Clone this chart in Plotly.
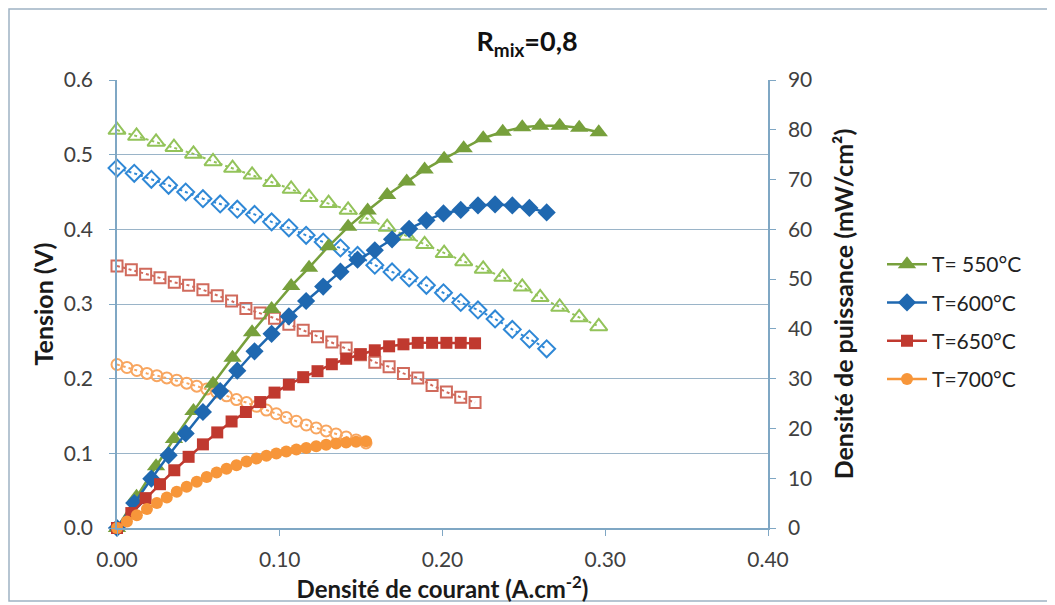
import plotly.graph_objects as go

# ---- data ----
x_550 = [0.000, 0.012, 0.024, 0.035, 0.047, 0.059, 0.071, 0.083, 0.095, 0.107, 0.118, 0.130, 0.142,
         0.154, 0.166, 0.178, 0.189, 0.201, 0.213, 0.225, 0.237, 0.249, 0.260, 0.272, 0.284, 0.296]
v_550 = [0.533, 0.525, 0.517, 0.510, 0.501, 0.491, 0.482, 0.473, 0.463, 0.454, 0.443, 0.435, 0.426,
         0.414, 0.403, 0.391, 0.380, 0.368, 0.357, 0.347, 0.336, 0.323, 0.309, 0.296, 0.282, 0.270]
p_550 = [0.0, 6.3, 12.4, 17.9, 23.5, 29.0, 34.2, 39.3, 44.0, 48.6, 52.3, 56.6, 60.5,
         63.8, 66.9, 69.6, 72.0, 74.2, 76.3, 78.3, 79.6, 80.5, 80.8, 80.8, 80.4, 79.5]

x_600 = [0.0000, 0.0106, 0.0211, 0.0317, 0.0422, 0.0528, 0.0634, 0.0739, 0.0845, 0.0950, 0.1056, 0.1162, 0.1267,
         0.1373, 0.1478, 0.1584, 0.1690, 0.1795, 0.1901, 0.2006, 0.2112, 0.2218, 0.2323, 0.2429, 0.2534, 0.2640]
v_600 = [0.482, 0.475, 0.467, 0.459, 0.450, 0.441, 0.434, 0.427, 0.420, 0.410, 0.402, 0.392, 0.383,
         0.375, 0.365, 0.352, 0.343, 0.335, 0.325, 0.315, 0.302, 0.292, 0.280, 0.266, 0.253, 0.240]
p_600 = [0.0, 5.0, 9.9, 14.6, 19.0, 23.3, 27.5, 31.6, 35.5, 39.0, 42.5, 45.6, 48.5,
         51.5, 53.9, 55.8, 58.0, 60.1, 61.8, 63.2, 63.9, 64.8, 65.0, 64.8, 64.3, 63.4]

x_650 = [0.0000, 0.0088, 0.0176, 0.0264, 0.0352, 0.0440, 0.0528, 0.0616, 0.0704, 0.0792, 0.0880, 0.0968, 0.1056,
         0.1144, 0.1232, 0.1320, 0.1408, 0.1496, 0.1584, 0.1672, 0.1760, 0.1848, 0.1936, 0.2024, 0.2112, 0.2200]
v_650 = [0.351, 0.346, 0.340, 0.335, 0.329, 0.325, 0.319, 0.311, 0.304, 0.294, 0.288, 0.281, 0.273,
         0.265, 0.256, 0.249, 0.241, 0.232, 0.222, 0.216, 0.207, 0.201, 0.191, 0.182, 0.175, 0.168]
p_650 = [0.0, 3.0, 6.0, 8.8, 11.6, 14.3, 16.8, 19.2, 21.4, 23.3, 25.3, 27.2, 28.8,
         30.3, 31.5, 32.9, 34.0, 34.9, 35.7, 36.5, 36.9, 37.2, 37.2, 37.2, 37.2, 37.1]

x_700 = [0.0000, 0.0061, 0.0122, 0.0184, 0.0245, 0.0306, 0.0367, 0.0428, 0.0490, 0.0551, 0.0612, 0.0673, 0.0734,
         0.0796, 0.0857, 0.0918, 0.0979, 0.1040, 0.1102, 0.1163, 0.1224, 0.1285, 0.1346, 0.1408, 0.1469, 0.1530]
v_700 = [0.219, 0.215, 0.211, 0.207, 0.204, 0.201, 0.198, 0.194, 0.190, 0.186, 0.182, 0.177, 0.172,
         0.168, 0.163, 0.158, 0.153, 0.148, 0.143, 0.138, 0.134, 0.130, 0.126, 0.122, 0.118, 0.114]
p_700 = [0.0, 1.31, 2.57, 3.81, 5.00, 6.15, 7.27, 8.30, 9.31, 10.25, 11.14, 11.91, 12.62,
         13.37, 13.97, 14.50, 14.98, 15.39, 15.76, 16.05, 16.40, 16.71, 16.96, 17.18, 17.33, 17.44]

labels = ["T= 550°C", "T=600°C", "T=650°C", "T=700°C"]
x_ticks = [0.0, 0.1, 0.2, 0.3, 0.4]

FONT = "Lato"

series = [
    (x_550, v_550, p_550, labels[0], "#77a03c", "#93c35a", "triangle-up", 16, 15),
    (x_600, v_600, p_600, labels[1], "#1f68b0", "#2f88d6", "diamond", 14, 13),
    (x_650, v_650, p_650, labels[2], "#c0392f", "#d06a5c", "square", 12, 11),
    (x_700, v_700, p_700, labels[3], "#f7963a", "#f8a660", "circle", 12, 11),
]

fig = go.Figure()
# voltage curves (open markers, dotted, left axis)
for xs, vs, ps, name, c_fill, c_open, sym, s_fill, s_open in series:
    fig.add_trace(go.Scatter(
        x=xs, y=vs, mode="lines+markers", showlegend=False, name=name + " (V)",
        line=dict(color=c_open, width=2, dash="dot"),
        marker=dict(symbol=sym + "-open", size=s_open, color=c_open, line=dict(width=2, color=c_open)),
        cliponaxis=False, yaxis="y"))
# power curves (filled markers, solid, right axis)
for i, (xs, vs, ps, name, c_fill, c_open, sym, s_fill, s_open) in enumerate(series):
    fig.add_trace(go.Scatter(
        x=xs, y=ps, mode="lines+markers", name=name, legendgroup="g%d" % i,
        line=dict(color=c_fill, width=2.5),
        marker=dict(symbol=sym, size=s_fill, color=c_fill, line=dict(width=0)),
        cliponaxis=False, yaxis="y2"))

axis_col = "#7fa7c4"
grid_col = "#9ab4c8"
tick_font = dict(family=FONT, size=21, color="#404040")
xtitle_font = dict(family=FONT, size=24, color="#1a1a1a")
ytitle_font = dict(family=FONT, size=25, color="#1a1a1a")

# plot area (in figure px): left 109, right 760, top 72, bottom 520
L, R, T, B = 109, 760, 72, 520
W, H = 1055, 605
PW, PH = R - L, B - T

fig.update_layout(
    width=W, height=H,
    margin=dict(l=L, r=W - R, t=T, b=H - B),
    paper_bgcolor="white", plot_bgcolor="white",
    font=dict(family=FONT, size=16, color="#222"),
    title=dict(text="<b>R<sub>mix</sub>=0,8</b>", x=0.492, xref="container", xanchor="center",
               y=0.944, yref="container", yanchor="middle",
               font=dict(family=FONT, size=27, color="#111")),
    xaxis=dict(range=[0, 0.40], tickvals=x_ticks, tickformat=".2f", showgrid=False,
               showline=True, linecolor=axis_col, linewidth=1.5, ticks="outside",
               tickcolor=axis_col, ticklen=6, tickfont=tick_font, zeroline=False,
               ticklabelstandoff=6,
               title=dict(text="<b>Densité de courant (A.cm<sup>-2</sup>)</b>", font=xtitle_font, standoff=4)),
    yaxis=dict(range=[0, 0.6], dtick=0.1, tickformat=".1f", showgrid=True, gridcolor=grid_col,
               gridwidth=1.3, showline=True, linecolor=axis_col, linewidth=1.5, ticks="outside",
               tickcolor=axis_col, ticklen=6, tickfont=tick_font, zeroline=False,
               ticklabelstandoff=12,
               title=dict(text="<b>Tension (V)</b>", font=ytitle_font, standoff=3)),
    yaxis2=dict(range=[0, 90], dtick=10, overlaying="y", side="right", showgrid=False,
                showline=True, linecolor=axis_col, linewidth=1.5, ticks="outside",
                tickcolor=axis_col, ticklen=6, tickfont=tick_font, zeroline=False,
                ticklabelstandoff=8,
                title=dict(text="<b>Densité de puissance (mW/cm²)</b>", font=ytitle_font, standoff=24)),
    legend=dict(x=(874 - L) / PW, y=1 - (236 - T) / PH, xanchor="left", yanchor="top",
                bgcolor="rgba(0,0,0,0)",
                font=dict(family=FONT, size=21, color="#222"), tracegroupgap=8,
                itemwidth=40),
    shapes=[dict(type="rect", xref="paper", yref="paper",
                 x0=(1 - L) / PW, x1=(1042 - L) / PW,
                 y0=(B - 593) / PH, y1=(B - 1) / PH,
                 line=dict(color="#9fb3c3", width=1.5), fillcolor="rgba(0,0,0,0)", layer="below")],
)

fig.write_html("out.html")
